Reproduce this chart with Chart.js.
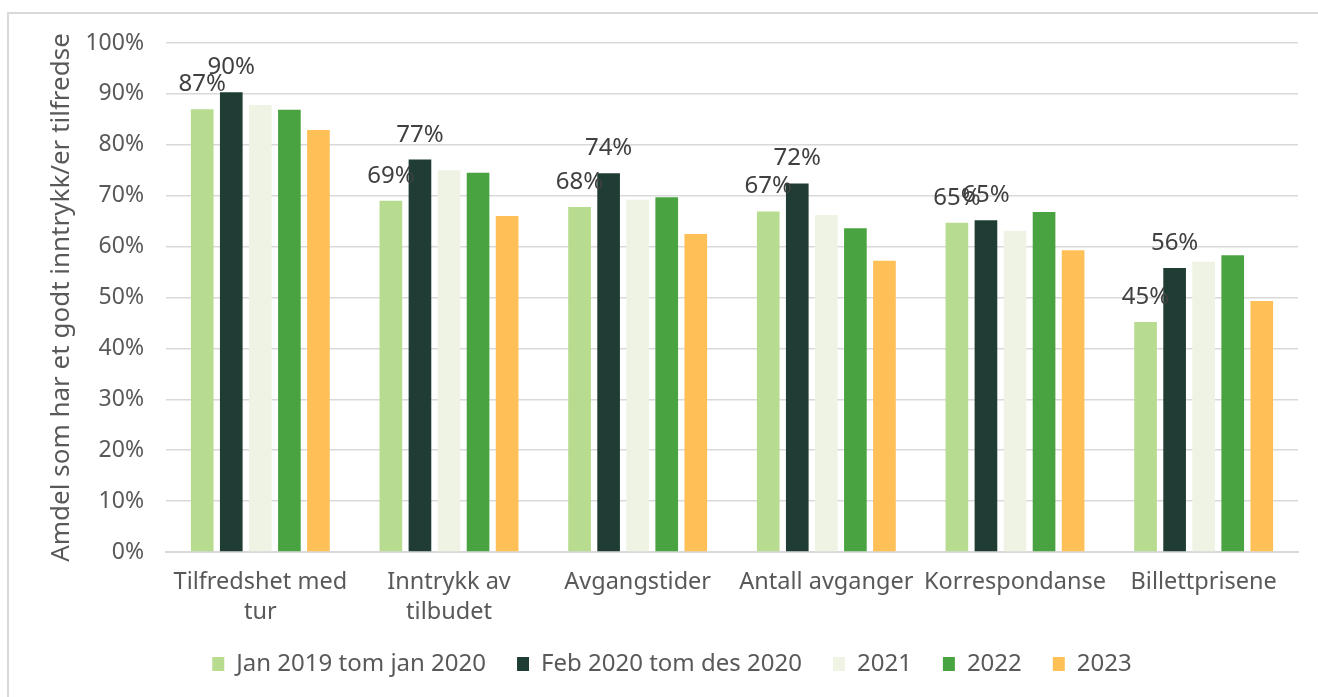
<!DOCTYPE html>
<html lang="no">
  <head>
    <meta charset="utf-8" />
    <title>Tilfredshet</title>
    <style>
      body { margin: 0; background: #fff; }
      .frame {
        position: absolute; left: 7px; top: 12px;
        width: 1400px; height: 800px;
        border: 2px solid #d9d9d9;
      }
      #chart { position: absolute; left: 0; top: 0; }
    </style>
  </head>
  <body>
    <div class="frame"></div>
    <canvas id="chart" width="1318" height="697"></canvas>

    <script src="https://cdn.jsdelivr.net/npm/chart.js@4.4.1/dist/chart.umd.min.js"></script>
    <script>
      const categories = [
        ["Tilfredshet med", "tur"],
        ["Inntrykk av", "tilbudet"],
        "Avgangstider",
        "Antall avganger",
        "Korrespondanse",
        "Billettprisene"
      ];
      const seriesNames = ["Jan 2019 tom jan 2020", "Feb 2020 tom des 2020", "2021", "2022", "2023"];
      const jan19 = [87.0, 69.0, 67.8, 66.9, 64.7, 45.2];
      const feb20 = [90.3, 77.1, 74.4, 72.4, 65.2, 55.8];
      const y2021 = [87.8, 75.0, 69.2, 66.2, 63.1, 57.0];
      const y2022 = [86.9, 74.5, 69.7, 63.6, 66.8, 58.3];
      const y2023 = [82.9, 66.0, 62.5, 57.2, 59.3, 49.3];
      const colors = ["#b7db8f", "#1f3d34", "#eff3e3", "#4aa341", "#ffc058"];
      const labelledSeries = [0, 1]; // only the first two series carry value labels

      const FONT = "'Noto Sans', sans-serif";
      const TEXT = "#595959";

      // small plugin drawing the % labels above the bars
      const valueLabels = {
        id: "valueLabels",
        afterDatasetsDraw(chart) {
          const ctx = chart.ctx;
          ctx.save();
          ctx.font = "24px " + FONT;
          ctx.fillStyle = "#404040";
          ctx.textAlign = "center";
          ctx.textBaseline = "alphabetic";
          labelledSeries.forEach((i) => {
            const meta = chart.getDatasetMeta(i);
            meta.data.forEach((bar, j) => {
              const v = chart.data.datasets[i].data[j];
              ctx.fillText(Math.round(v) + "%", bar.x, bar.y - 18);
            });
          });
          ctx.restore();
        }
      };

      const allSeries = [jan19, feb20, y2021, y2022, y2023];

      new Chart(document.getElementById("chart"), {
        type: "bar",
        data: {
          labels: categories,
          datasets: allSeries.map((d, i) => ({
            label: seriesNames[i],
            data: d,
            backgroundColor: colors[i],
            categoryPercentage: 0.77,
            barPercentage: 0.78
          }))
        },
        options: {
          responsive: false,
          animation: false,
          layout: { padding: { top: 43, right: 20, left: 46, bottom: 11 } },
          plugins: {
            tooltip: { enabled: false },
            legend: {
              position: "bottom",
              labels: {
                font: { family: FONT, size: 24 },
                color: TEXT,
                boxWidth: 12,
                boxHeight: 14,
                padding: 31
              }
            }
          },
          scales: {
            x: {
              grid: { display: false, drawTicks: false },
              border: { color: "#d9d9d9", width: 2 },
              ticks: {
                font: { family: FONT, size: 23.5, lineHeight: 1.25 },
                color: TEXT,
                padding: 16,
                maxRotation: 0,
                autoSkip: false
              },
              afterFit: (s) => { s.height = 69; }
            },
            y: {
              min: 0,
              max: 100,
              grid: { color: "#d9d9d9", lineWidth: 1.5, drawTicks: false },
              border: { display: false },
              ticks: {
                stepSize: 10,
                font: { family: FONT, size: 23 },
                color: TEXT,
                padding: 22,
                callback: (v) => v + "%"
              },
              title: {
                display: true,
                text: "Amdel som har et godt inntrykk/er tilfredse",
                font: { family: FONT, size: 26 },
                color: TEXT,
                padding: { top: 0, bottom: 0 }
              },
              afterFit: (s) => { s.width = 120; }
            }
          }
        },
        plugins: [valueLabels]
      });
    </script>
  </body>
</html>
